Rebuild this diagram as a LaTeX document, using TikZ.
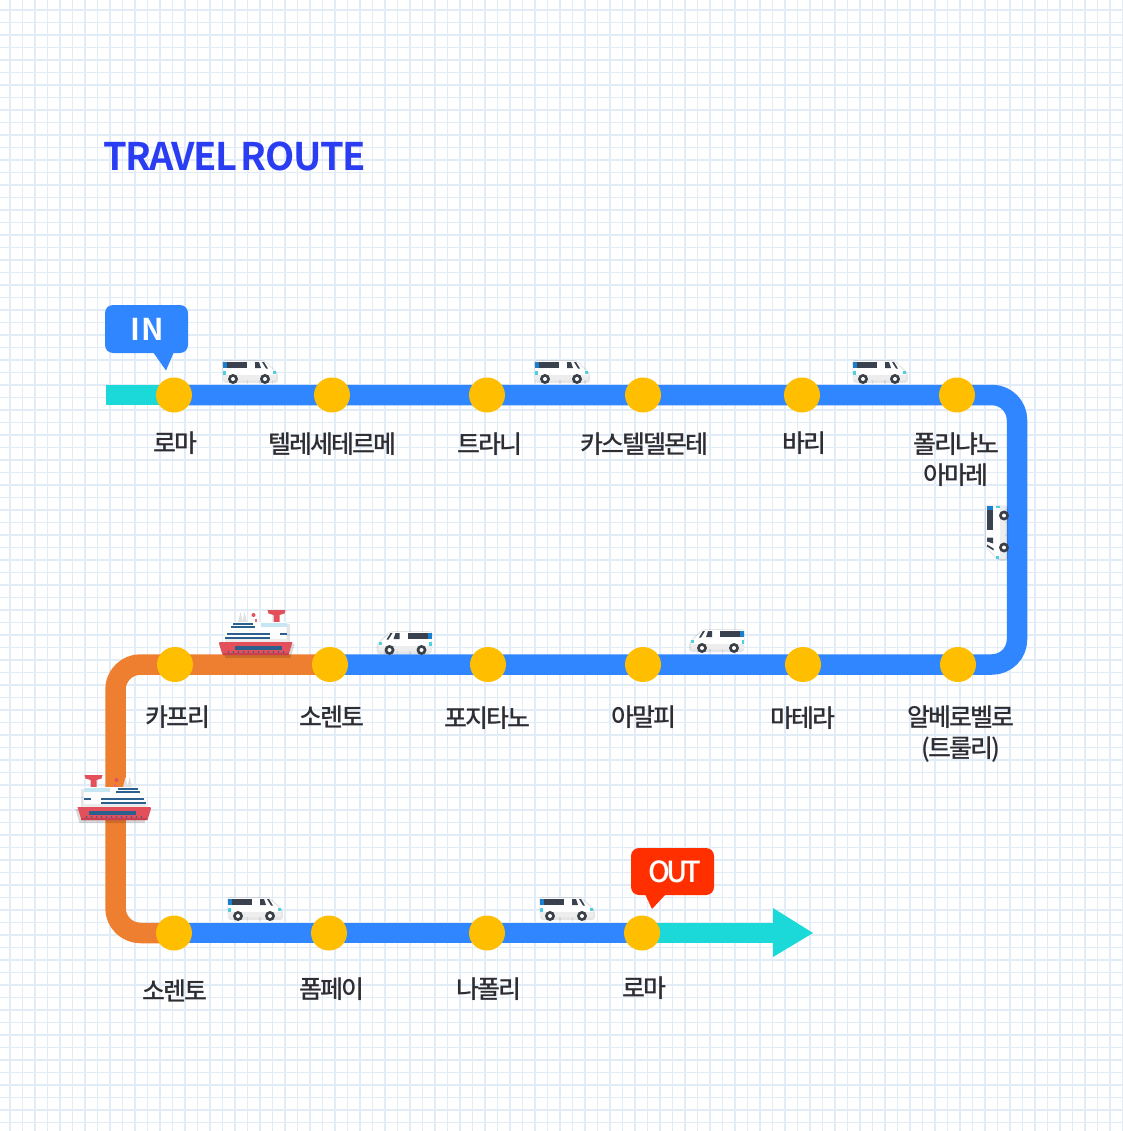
\documentclass[tikz,border=0pt]{standalone}
\usepackage{fontspec}
\usetikzlibrary{shapes.geometric}
\newfontfamily\krlabel[LetterSpace=-8]{Noto Sans CJK KR Medium}
\newfontfamily\krtitle[LetterSpace=-3.8]{Noto Sans CJK KR Bold}
\newfontfamily\krtag[LetterSpace=2]{Noto Sans CJK KR Bold}
\newfontfamily\krtagb[LetterSpace=-14]{Noto Sans CJK KR Medium}
\definecolor{gridc}{HTML}{E2ECF7}
\definecolor{routeb}{HTML}{3086FF}
\definecolor{routeo}{HTML}{EF7F30}
\definecolor{routet}{HTML}{1BD9D9}
\definecolor{stopc}{HTML}{FFBE00}
\definecolor{labelc}{HTML}{2D2D33}
\definecolor{titlec}{HTML}{2A3DF2}
\definecolor{tagred}{HTML}{FF2F00}
\definecolor{hullc}{HTML}{E2505C}
\definecolor{hulld}{HTML}{C8404E}
\definecolor{navyc}{HTML}{2B5F8E}
\definecolor{wheelc}{HTML}{3A3F48}
\definecolor{winc}{HTML}{3A4250}
\definecolor{vanb}{HTML}{1B7FD0}
\definecolor{vant}{HTML}{4FD0E0}
\pgfdeclarelayer{gridlayer}
\pgfdeclarelayer{routelayer}
\pgfsetlayers{gridlayer,routelayer,main}
\tikzset{
  x=1pt,y=-1pt,
  routeline/.style={line width=20.5pt,rounded corners=25pt,line join=round},
  stopdot/.style={ellipse,fill=stopc,minimum width=36pt,minimum height=35pt,inner sep=0pt,outer sep=0pt},
  stoplabel/.style={font=\fontsize{25}{31}\selectfont\krlabel,text=labelc,inner sep=0pt,align=center},
  tagbox/.style={rounded corners=8pt,minimum width=83pt,inner sep=0pt,text=white},
  pics/van/.style={code={
    \fill[black,opacity=.1,rounded corners=3pt] (-27,-12) -- (15,-12) -- (25,-3) -- (29,1) -- (29,11) -- (-26,11) -- cycle;
    \fill[white] (-26,-7) [rounded corners=2pt] -- (-26,-11) -- (12,-11) [sharp corners] -- (16,-10) -- (23,-3) [rounded corners=2pt] -- (27,0) -- (27,8) -- (-26,8) -- cycle;
    \fill[black!7] (-26,3) rectangle (27,8);
    \fill[vanb] (-26,-10) rectangle (-22,-4);
    \fill[winc] (-22,-10) rectangle (-2,-4);
    \fill[winc] (6,-10) -- (10,-10) -- (12,-4) -- (6,-4) -- cycle;
    \fill[winc] (13,-10) -- (15,-10) -- (19,-3.5) -- (17,-3.5) -- cycle;
    \fill[vant] (-26,-1) rectangle (-23.5,3);
    \fill[vant] (24,-1) rectangle (27,2);
    \foreach \wx in {-16,16}{
      \fill[wheelc] (\wx,7) circle[radius=5];
      \fill[white] (\wx,7) circle[radius=2];
    }
  }},
  pics/ship/.style={code={
    \fill[black,opacity=.15] (-35,10) -- (39,10) -- (35,24) -- (-30,24) -- cycle;
    \fill[black,opacity=.1] (-22,-10) -- (34,-10) -- (34,8) -- (-22,8) -- cycle;
    % masts
    \fill[black!12] (-18,-10) -- (-15,-22) -- (-13,-12) -- (-11,-22) -- (-8,-10) -- cycle;
    \fill[hullc] (-2,-19) circle[radius=2];
    \fill[hullc!85!white] (-1,-11) rectangle (1,-15);
    % funnel
    \fill[hullc] (12,-24) -- (30,-24) -- (29,-20.5) -- (24,-19) -- (24,-10) -- (18,-10) -- (18,-19) -- (13,-20.5) -- cycle;
    % decks
    \fill[white!92!gridc] (-24,-12) -- (31,-12) -- (31,8) -- (-32,8) -- (-30,-2) -- (-26,-2) -- cycle;
    \fill[gridc!80!vant] (5,-11.5) rectangle (31,-7);
    \fill[black!8] (-31,5) rectangle (31,8);
    \fill[navyc] (-23,-11) rectangle (-3,-9.3);
    \fill[navyc] (-25,-8) rectangle (-1,-6);
    \fill[navyc] (-29,-1) rectangle (14,1);
    \fill[navyc] (-31,3) rectangle (14,5);
    \fill[navyc] (24,-1) rectangle (31,1);
    % hull
    \fill[hullc] (-37,8) -- (37,8) -- (33,21) [rounded corners=2pt] -- (-33,21) -- cycle;
    \fill[hulld] (-33,19) -- (33.5,19) -- (33,21) -- (-33,21) -- cycle;
    \fill[navyc] (-21,11.5) rectangle (26,16);
    \foreach \dx in {-27,-22,...,28}{ \fill[navyc] (\dx,18) circle[radius=.9]; }
  }},
}
\begin{document}
\begin{tikzpicture}
\useasboundingbox (0,0) rectangle (1122,1131);
\begin{pgfonlayer}{gridlayer}
\fill[white] (0,0) rectangle (1122,1131);
\foreach \k in {0,...,89}{
  \draw[gridc,line width=1.5pt] ({10+12.5*\k},0) -- ({10+12.5*\k},1131);
  \draw[gridc,line width=1.5pt] (0,{10+12.5*\k}) -- (1122,{10+12.5*\k});
}
\end{pgfonlayer}
% named route points
\coordinate (startpt) at (106,395);
\coordinate (cornerA) at (1017,395);
\coordinate (cornerB) at (1017,664.5);
\coordinate (cornerC) at (115.5,664.5);
\coordinate (cornerD) at (115.5,933);
\coordinate (headbase) at (773,933);
\coordinate (headtip) at (813,933);
\coordinate (headup) at (773,908);
\coordinate (headdn) at (773,957);
% stops
\node[stopdot] (a1) at (174,395) {};
\node[stopdot] (a2) at (332,395) {};
\node[stopdot] (a3) at (487,395) {};
\node[stopdot] (a4) at (643,395) {};
\node[stopdot] (a5) at (802,395) {};
\node[stopdot] (a6) at (957,395) {};
\node[stopdot] (b1) at (175,664.5) {};
\node[stopdot] (b2) at (330,664.5) {};
\node[stopdot] (b3) at (488,664.5) {};
\node[stopdot] (b4) at (643,664.5) {};
\node[stopdot] (b5) at (803,664.5) {};
\node[stopdot] (b6) at (958,664.5) {};
\node[stopdot] (c1) at (174,933) {};
\node[stopdot] (c2) at (329,933) {};
\node[stopdot] (c3) at (487,933) {};
\node[stopdot] (c4) at (642,933) {};
% route
\begin{pgfonlayer}{routelayer}
\draw[routeline,routet,rounded corners=0pt] (startpt) -- (a1.center);
\draw[routeline,routet,rounded corners=0pt] (c4.center) -- (headbase);
\fill[routet] (headup) -- (headtip) -- (headdn) -- cycle;
\draw[routeline,routeo] (b2.center) -- (cornerC) -- (cornerD) -- (c1.center);
\draw[routeline,routeb] (a1.center) -- (cornerA) -- (cornerB) -- (b2.center);
\draw[routeline,routeb] (c1.center) -- (c4.center);
\end{pgfonlayer}
% labels
\node[stoplabel] (la1) at (175.5,443) {로마};
\node[stoplabel] (la2) at (332.5,444) {텔레세테르메};
\node[stoplabel] (la3) at (490,444) {트라니};
\node[stoplabel] (la4) at (644.5,444) {카스텔델몬테};
\node[stoplabel] (la5) at (804,443) {바리};
\node[stoplabel] (la6) at (956,460) {폴리냐노\\아마레};
\node[stoplabel] (lb1) at (178,717) {카프리};
\node[stoplabel] (lb2) at (332,717) {소렌토};
\node[stoplabel] (lb3) at (487.5,718) {포지타노};
\node[stoplabel] (lb4) at (644,717) {아말피};
\node[stoplabel] (lb5) at (803,718) {마테라};
\node[stoplabel] (lb6) at (960.5,734.5) {알베로벨로\\(트룰리)};
\node[stoplabel] (lc1) at (175,991) {소렌토};
\node[stoplabel] (lc2) at (332,989) {폼페이};
\node[stoplabel] (lc3) at (489,989) {나폴리};
\node[stoplabel] (lc4) at (644,988) {로마};
% title
\node[anchor=west,inner sep=0pt,text=titlec,font=\fontsize{38}{38}\selectfont\krtitle] (ttl) at (103,156) {TRAVEL\hspace{-4pt} ROUTE};
% tags
\node[tagbox,fill=routeb,minimum height=48pt,font=\fontsize{30}{30}\selectfont\krtag] (intag) at (146.5,329) {\hspace*{1pt}IN};
\fill[routeb] (153,352) -- (174,352) -- (166,370.5) -- cycle;
\node[tagbox,fill=tagred,minimum height=47pt,font=\fontsize{29}{29}\selectfont\krtagb] (outtag) at (672.5,871.5) {\hspace*{5pt}OUT};
\fill[tagred] (645,894) -- (666,894) -- (652,909) -- cycle;
% vehicles
\pic at (249,372) {van};
\pic at (561,372) {van};
\pic at (879,372) {van};
\pic at (254,909) {van};
\pic at (566,909) {van};
\begin{scope}[shift={(405.5,643)},xscale=-1]\pic[transform shape] {van};\end{scope}
\begin{scope}[shift={(718,641)},xscale=-1]\pic[transform shape] {van};\end{scope}
\begin{scope}[shift={(997,531.5)},rotate=-90,yscale=-1]\pic[transform shape] {van};\end{scope}
\pic at (255.5,634) {ship};
\begin{scope}[shift={(114.5,799)},xscale=-1]\pic[transform shape] {ship};\end{scope}
\end{tikzpicture}
\end{document}
